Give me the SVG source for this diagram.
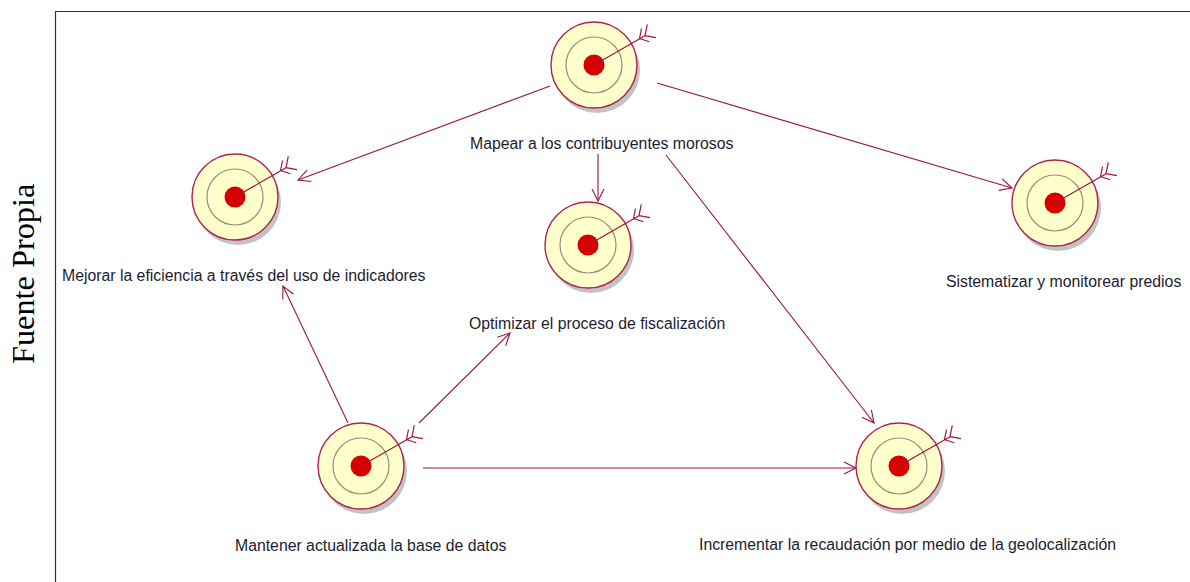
<svg xmlns="http://www.w3.org/2000/svg" width="1190" height="582" viewBox="0 0 1190 582">
<style>
.lbl{font-family:"Liberation Sans",Arial,sans-serif;font-size:15.8px;fill:#1c1c30}
.c{fill:none;stroke:#9c1440;stroke-width:1.1}
.s{fill:#b4b4b4;opacity:.8}
.o{fill:#ffffcc;stroke:#b0224f;stroke-width:1.4}
.r{fill:none;stroke:#8f8f80;stroke-width:1.2}
.d{fill:#d60000}
.a{fill:none;stroke:#9c1440;stroke-width:1.2}
</style>
<defs>
<marker id="ah" markerWidth="16" markerHeight="14" refX="14" refY="7" orient="auto" markerUnits="userSpaceOnUse"><path d="M2 1 L14 7 L2 13" fill="none" stroke="#9c1440" stroke-width="1.1"/></marker>
<g id="goal">
<circle class="s" cx="3" cy="5" r="43"/>
<circle class="o" r="43"/>
<circle class="r" r="28"/>
<circle class="d" r="10.5"/>
<path class="a" d="M0 0L51 -29.300M45.500 -26.500L47.500 -36.500M45.500 -26.500L55.300 -23.300M51 -29.300L53.300 -40.700M51 -29.300L62 -27.300"/>
</g>
</defs>
<rect width="1190" height="582" fill="#fff"/>
<path d="M55.500 582V11.500H1190" fill="none" stroke="#333" stroke-width="1.200"/>
<text transform="translate(34,364) rotate(-90)" font-family="Liberation Serif,Times New Roman,serif" font-size="32.300" fill="#000">Fuente Propia</text>
<g id="connectors">
<path class="c" marker-end="url(#ah)" d="M550 86L298 180"/>
<path class="c" marker-end="url(#ah)" d="M598 154V201"/>
<path class="c" marker-end="url(#ah)" d="M657 83L1012 188"/>
<path class="c" marker-end="url(#ah)" d="M666 155L874 423"/>
<path class="c" marker-end="url(#ah)" d="M348 423L283 286"/>
<path class="c" marker-end="url(#ah)" d="M419 423L510 333"/>
<path class="c" stroke-width="1.4" marker-end="url(#ah)" d="M423 468H856"/>
</g>
<g id="n1"><use href="#goal" x="594" y="65"/><text class="lbl" x="470" y="149">Mapear a los contribuyentes morosos</text></g>
<g id="n2"><use href="#goal" x="235" y="197"/><text class="lbl" x="62" y="281">Mejorar la eficiencia a través del uso de indicadores</text></g>
<g id="n3"><use href="#goal" x="588" y="245"/><text class="lbl" x="469" y="329">Optimizar el proceso de fiscalización</text></g>
<g id="n4"><use href="#goal" x="1055" y="203"/><text class="lbl" x="946" y="287">Sistematizar y monitorear predios</text></g>
<g id="n5"><use href="#goal" x="361" y="466"/><text class="lbl" x="235" y="551">Mantener actualizada la base de datos</text></g>
<g id="n6"><use href="#goal" x="899" y="466"/><text class="lbl" x="699" y="550">Incrementar la recaudación por medio de la geolocalización</text></g>
</svg>
